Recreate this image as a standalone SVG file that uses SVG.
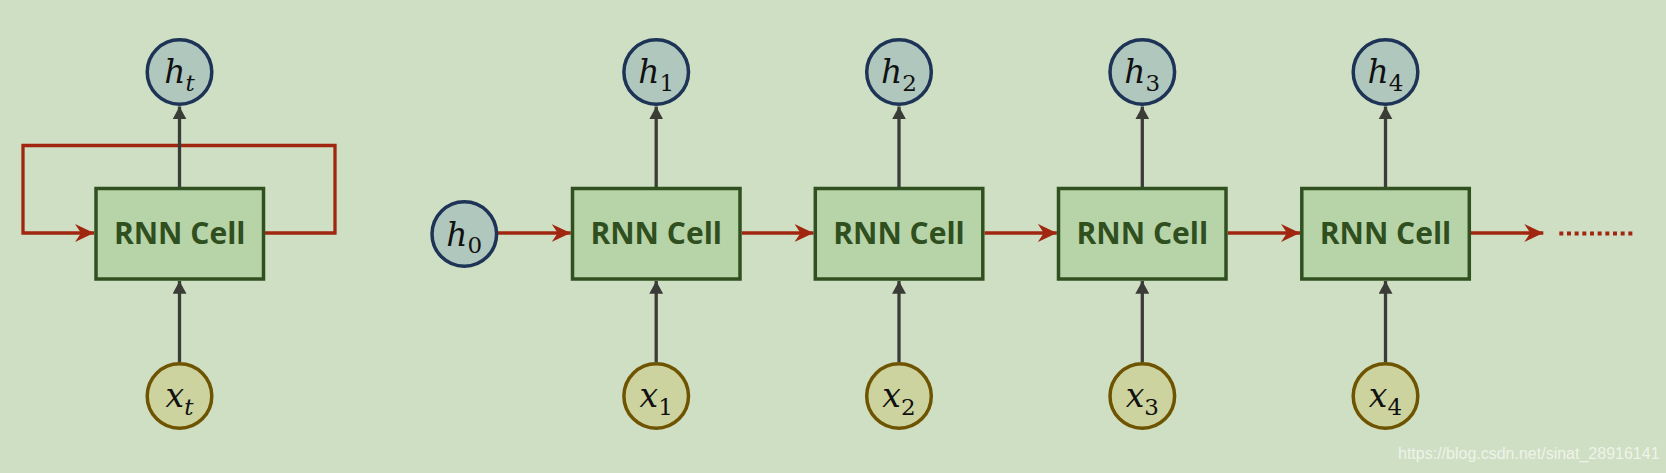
<svg xmlns="http://www.w3.org/2000/svg" width="1666" height="473" viewBox="0 0 1666 473">
<defs>
<marker id="ag" markerUnits="userSpaceOnUse" markerWidth="14" markerHeight="14" viewBox="0 0 12 12" refX="11" refY="6" orient="auto">
<path d="M0,0 L11,6 L0,12 Z" fill="#3b3c38"/>
</marker>
<marker id="ar" markerUnits="userSpaceOnUse" markerWidth="20" markerHeight="20" viewBox="0 0 20 20" refX="19" refY="10" orient="auto">
<path d="M0,1 L19,10 L0,19 L6,10 Z" fill="#a1260f"/>
</marker>
</defs>
<style>
.cell{fill:#b7d3a8;stroke:#30511f;stroke-width:3.5}
.lbl{font-family:"Open Sans","Noto Sans",sans-serif;font-weight:bold;font-size:30px;fill:#2f4f1e;text-anchor:middle}
.hc{fill:#b0c7bd;stroke:#1e3457;stroke-width:3.5}
.xc{fill:#ccd39e;stroke:#6e5400;stroke-width:3.5}
.m{font-family:"DejaVu Serif",serif;font-style:italic;font-size:33px;fill:#111;text-anchor:middle}
.s{font-size:23px}
.d{font-style:normal}
.g{stroke:#3b3c38;stroke-width:3.3;fill:none}
.r{stroke:#a1260f;stroke-width:3.3;fill:none}
</style>
<rect width="1666" height="473" fill="#cfdfc4"/>
<g id="connectors">
<path class="r" d="M265,233 H335 V145.5 H23 V233 H94" marker-end="url(#ar)"/>
<line class="g" x1="179.5" y1="187" x2="179.5" y2="106.5" marker-end="url(#ag)"/>
<line class="g" x1="179.5" y1="362" x2="179.5" y2="281" marker-end="url(#ag)"/>
<line class="r" x1="498" y1="233" x2="570.7" y2="233" marker-end="url(#ar)"/>
<line class="r" x1="741.7" y1="233" x2="813.5" y2="233" marker-end="url(#ar)"/>
<line class="r" x1="984.5" y1="233" x2="1056.8" y2="233" marker-end="url(#ar)"/>
<line class="r" x1="1227.8" y1="233" x2="1300" y2="233" marker-end="url(#ar)"/>
<line class="r" x1="1471" y1="233" x2="1543.3" y2="233" marker-end="url(#ar)"/>
<line x1="1559.3" y1="233.5" x2="1634" y2="233.5" stroke="#a1260f" stroke-width="4" stroke-dasharray="4 3.67"/>
<line class="g" x1="656.2" y1="187" x2="656.2" y2="106.5" marker-end="url(#ag)"/>
<line class="g" x1="656.2" y1="362" x2="656.2" y2="281" marker-end="url(#ag)"/>
<line class="g" x1="899" y1="187" x2="899" y2="106.5" marker-end="url(#ag)"/>
<line class="g" x1="899" y1="362" x2="899" y2="281" marker-end="url(#ag)"/>
<line class="g" x1="1142.3" y1="187" x2="1142.3" y2="106.5" marker-end="url(#ag)"/>
<line class="g" x1="1142.3" y1="362" x2="1142.3" y2="281" marker-end="url(#ag)"/>
<line class="g" x1="1385.5" y1="187" x2="1385.5" y2="106.5" marker-end="url(#ag)"/>
<line class="g" x1="1385.5" y1="362" x2="1385.5" y2="281" marker-end="url(#ag)"/>
</g>
<g id="cell-loop"><rect class="cell" x="96" y="188.5" width="167.5" height="90.5"/><text class="lbl" x="179.7" y="244">RNN Cell</text></g>
<g id="cell-1"><rect class="cell" x="572.5" y="188.5" width="167.5" height="90.5"/><text class="lbl" x="656.2" y="244">RNN Cell</text></g>
<g id="cell-2"><rect class="cell" x="815.3" y="188.5" width="167.5" height="90.5"/><text class="lbl" x="899" y="244">RNN Cell</text></g>
<g id="cell-3"><rect class="cell" x="1058.5" y="188.5" width="167.5" height="90.5"/><text class="lbl" x="1142.3" y="244">RNN Cell</text></g>
<g id="cell-4"><rect class="cell" x="1301.8" y="188.5" width="167.5" height="90.5"/><text class="lbl" x="1385.5" y="244">RNN Cell</text></g>
<g id="ht"><circle class="hc" cx="179.5" cy="72" r="32.3"/><text class="m" x="179.5" y="83.3">h<tspan class="s" dy="7.7">t</tspan></text></g>
<g id="xt"><circle class="xc" cx="179.5" cy="396" r="32.3"/><text class="m" x="179.5" y="406.7">x<tspan class="s" dy="8.3">t</tspan></text></g>
<g id="h0"><circle class="hc" cx="464.3" cy="234" r="32.3"/><text class="m" x="464.3" y="246">h<tspan class="s d" dy="6.7">0</tspan></text></g>
<g id="h1"><circle class="hc" cx="656.2" cy="72" r="32.3"/><text class="m" x="656.2" y="83.3">h<tspan class="s d" dy="7.7">1</tspan></text></g>
<g id="x1"><circle class="xc" cx="656.2" cy="396" r="32.3"/><text class="m" x="656.2" y="406.7">x<tspan class="s d" dy="8.3">1</tspan></text></g>
<g id="h2"><circle class="hc" cx="899" cy="72" r="32.3"/><text class="m" x="899" y="83.3">h<tspan class="s d" dy="7.7">2</tspan></text></g>
<g id="x2"><circle class="xc" cx="899" cy="396" r="32.3"/><text class="m" x="899" y="406.7">x<tspan class="s d" dy="8.3">2</tspan></text></g>
<g id="h3"><circle class="hc" cx="1142.3" cy="72" r="32.3"/><text class="m" x="1142.3" y="83.3">h<tspan class="s d" dy="7.7">3</tspan></text></g>
<g id="x3"><circle class="xc" cx="1142.3" cy="396" r="32.3"/><text class="m" x="1142.3" y="406.7">x<tspan class="s d" dy="8.3">3</tspan></text></g>
<g id="h4"><circle class="hc" cx="1385.5" cy="72" r="32.3"/><text class="m" x="1385.5" y="83.3">h<tspan class="s d" dy="7.7">4</tspan></text></g>
<g id="x4"><circle class="xc" cx="1385.5" cy="396" r="32.3"/><text class="m" x="1385.5" y="406.7">x<tspan class="s d" dy="8.3">4</tspan></text></g>
<text x="1398" y="459" font-family="Liberation Sans, Arial, sans-serif" font-size="16" fill="#f3f6ef" fill-opacity="0.9">https://blog.csdn.net/sinat_28916141</text>
</svg>
